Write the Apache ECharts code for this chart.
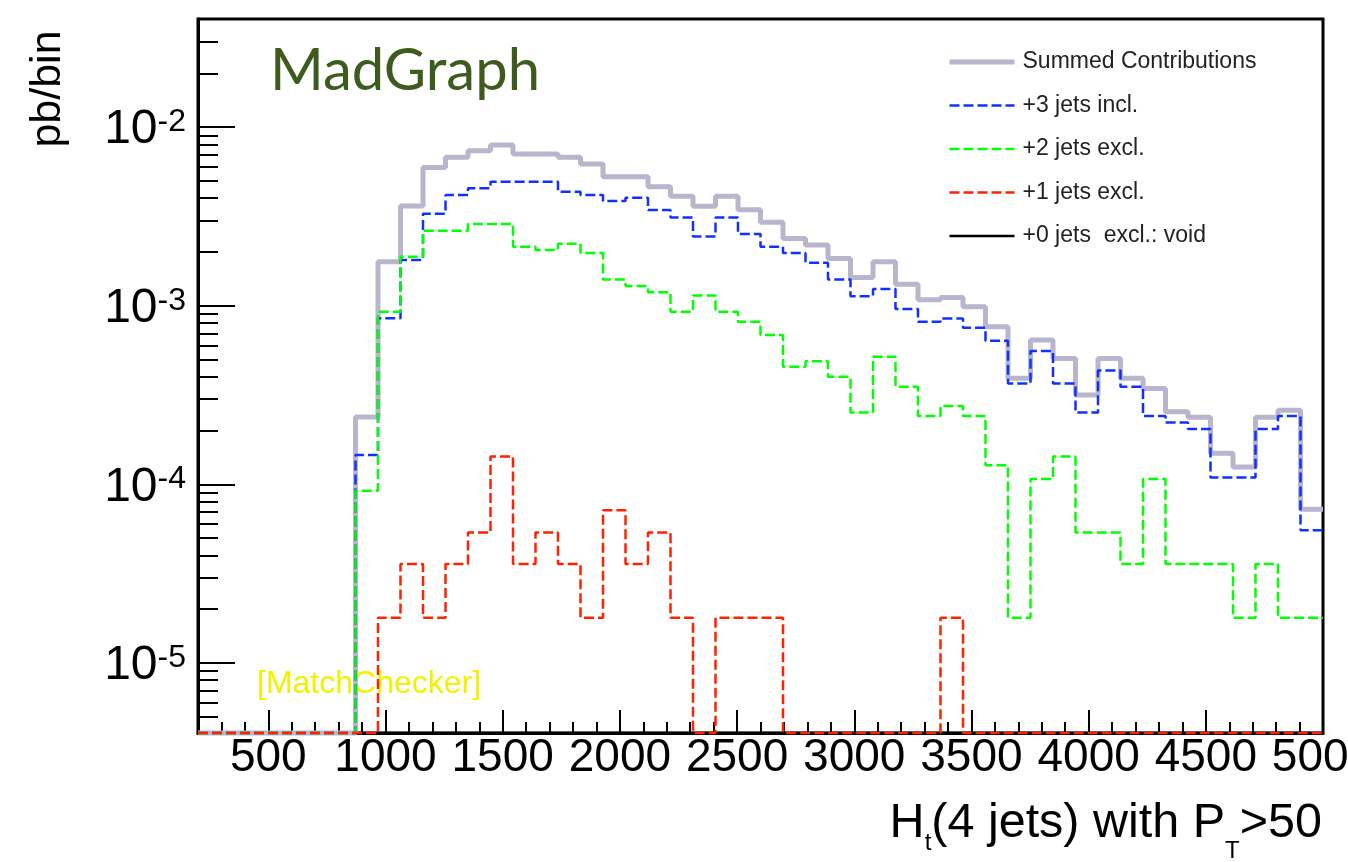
<!DOCTYPE html>
<html><head><meta charset="utf-8">
<script src="https://cdn.jsdelivr.net/npm/echarts@6/dist/echarts.min.js"></script>
<style>html,body{margin:0;padding:0;background:#fff}#c{width:1348px;height:862px}</style>
</head><body><div id="c"></div>
<script>
// bin edges (GeV), 50 bins of 96 from 200 to 5000
const binEdges = [200,296,392,488,584,680,776,872,968,1064,1160,1256,1352,1448,1544,1640,1736,1832,1928,2024,2120,2216,2312,2408,2504,2600,2696,2792,2888,2984,3080,3176,3272,3368,3464,3560,3656,3752,3848,3944,4040,4136,4232,4328,4424,4520,4616,4712,4808,4904,5000];

const summed = [0,0,0,0,0,0,0,2.38e-4,1.76e-3,3.62e-3,5.95e-3,6.77e-3,7.38e-3,7.95e-3,7.08e-3,7.08e-3,6.77e-3,6.22e-3,5.28e-3,5.28e-3,4.64e-3,4.10e-3,3.60e-3,4.10e-3,3.45e-3,2.93e-3,2.38e-3,2.19e-3,1.84e-3,1.44e-3,1.76e-3,1.32e-3,1.08e-3,1.11e-3,9.87e-4,7.62e-4,3.92e-4,6.43e-4,5.07e-4,3.16e-4,5.07e-4,3.92e-4,3.44e-4,2.55e-4,2.37e-4,1.49e-4,1.25e-4,2.37e-4,2.60e-4,7.26e-5];

const jets3incl = [0,0,0,0,0,0,0,1.46e-4,8.5e-4,1.80e-3,3.27e-3,4.17e-3,4.54e-3,4.95e-3,4.95e-3,4.95e-3,4.35e-3,4.17e-3,3.86e-3,4.02e-3,3.43e-3,3.12e-3,2.44e-3,3.12e-3,2.52e-3,2.14e-3,1.97e-3,1.74e-3,1.40e-3,1.13e-3,1.24e-3,9.58e-4,8.13e-4,8.49e-4,7.53e-4,6.37e-4,3.67e-4,5.57e-4,3.67e-4,2.52e-4,4.33e-4,3.52e-4,2.41e-4,2.22e-4,2.04e-4,1.09e-4,1.09e-4,2.04e-4,2.41e-4,5.53e-5];

const jets2excl = [0,0,0,0,0,0,0,9.2e-5,9.25e-4,1.88e-3,2.63e-3,2.63e-3,2.87e-3,2.87e-3,2.14e-3,2.05e-3,2.22e-3,1.97e-3,1.40e-3,1.29e-3,1.19e-3,9.25e-4,1.14e-3,9.25e-4,8.13e-4,6.85e-4,4.55e-4,4.88e-4,4.0e-4,2.52e-4,5.18e-4,3.52e-4,2.41e-4,2.74e-4,2.41e-4,1.28e-4,1.79e-5,1.07e-4,1.43e-4,5.37e-5,5.37e-5,3.58e-5,1.07e-4,3.58e-5,3.58e-5,3.58e-5,1.79e-5,3.58e-5,1.79e-5,1.79e-5];

const jets1excl = [0,0,0,0,0,0,0,0,1.79e-5,3.58e-5,1.79e-5,3.58e-5,5.37e-5,1.43e-4,3.58e-5,5.37e-5,3.58e-5,1.79e-5,7.16e-5,3.58e-5,5.37e-5,1.79e-5,0,1.79e-5,1.79e-5,1.79e-5,0,0,0,0,0,0,0,1.79e-5,0,0,0,0,0,0,0,0,0,0,0,0,0,0,0,0];

const jets0excl = [0,0,0,0,0,0,0,0,0,0,0,0,0,0,0,0,0,0,0,0,0,0,0,0,0,0,0,0,0,0,0,0,0,0,0,0,0,0,0,0,0,0,0,0,0,0,0,0,0,0];

const seriesNames = ['Summed Contributions', '+3 jets incl.', '+2 jets excl.', '+1 jets excl.', '+0 jets  excl.: void'];
const xMajorTicks = [500,1000,1500,2000,2500,3000,3500,4000,4500,5000];
const xMinorTicks = [300,400,600,700,800,900,1100,1200,1300,1400,1600,1700,1800,1900,2100,2200,2300,2400,2600,2700,2800,2900,3100,3200,3300,3400,3600,3700,3800,3900,4100,4200,4300,4400,4600,4700,4800,4900];
const yMajorTicks = [1e-5,1e-4,1e-3,1e-2];
const yMinorTicks = [5e-6,6e-6,7e-6,8e-6,9e-6,2e-5,3e-5,4e-5,5e-5,6e-5,7e-5,8e-5,9e-5,2e-4,3e-4,4e-4,5e-4,6e-4,7e-4,8e-4,9e-4,2e-3,3e-3,4e-3,5e-3,6e-3,7e-3,8e-3,9e-3,2e-2,3e-2];
// x-axis title pieces: [text, kind] (0 main, 1/2 subscripts)
const xTitleParts = [['H',0],['t',1],['(4 jets) with P',0],['T',2],['>50',0]];

const Y_MIN = 4.05e-6, Y_MAX = 0.0403;
const F = 'Liberation Sans, Arial, Helvetica, sans-serif';

function steps(vals){
  const pts = vals.map((v,i)=>[binEdges[i], v>0 ? v : Y_MIN]);
  const last = vals[vals.length-1];
  pts.push([binEdges[vals.length], last>0 ? last : Y_MIN]);
  return pts;
}

// build x title as consecutive text pieces (main text + subscripts)
function xTitleGraphics(){
  const ctx = document.createElement('canvas').getContext('2d');
  const sizes = [48.5, 24, 24];
  const baseY = [840, 852, 860];
  const font = fs => fs + 'px "Liberation Sans", Arial, sans-serif';
  const widths = xTitleParts.map(([t,k]) => { ctx.font = font(sizes[k]); return ctx.measureText(t).width; });
  let x = 1322 - widths.reduce((a,b)=>a+b,0);
  return xTitleParts.map(([t,k],i) => {
    const fs = sizes[k];
    const g = {type:'text', x:x, y:baseY[k] - 0.3465*fs, silent:true,
      style:{text:t, font:font(fs), fill:'#000', align:'left', verticalAlign:'middle', lineHeight:fs}};
    x += widths[i];
    return g;
  });
}

const chart = echarts.init(document.getElementById('c'), null, {renderer:'canvas'});
const dash = [10,4];
const mk = (name, vals, color, width, type, z) => ({
  name, type:'line', step:'end', data: steps(vals), symbol:'none', clip:false,
  lineStyle:{color, width, type}, itemStyle:{color}, z, silent:true
});

chart.setOption({
  animation:false,
  backgroundColor:'#fff',
  grid:{left:198, right:25, top:19, bottom:129, outerBoundsMode:'none', containLabel:false,
        show:true, borderColor:'#000', borderWidth:3, backgroundColor:'transparent'},
  legend:{
    orient:'vertical', left:947, top:50, padding:0, itemWidth:65, itemHeight:14, itemGap:19.5,
    selectedMode:false, data:seriesNames, itemStyle:{opacity:0, borderWidth:0},
    lineStyle:{width:'inherit'},
    textStyle:{fontSize:23, fontFamily:F, color:'#222', lineHeight:24, padding:[0,0,0,3]}
  },
  xAxis:[
    {type:'value', min:200, max:5000, position:'bottom',
     axisLine:{show:true, lineStyle:{color:'#000', width:3}},
     axisTick:{show:true, inside:true, length:23, customValues:xMajorTicks, lineStyle:{color:'#000', width:2}},
     axisLabel:{show:true, customValues:xMajorTicks, formatter:v=>String(v), hideOverlap:false,
       fontSize:46, lineHeight:46, fontFamily:F, color:'#000', margin:2},
     splitLine:{show:false}},
    {type:'value', min:200, max:5000, position:'bottom',
     axisLine:{show:false},
     axisTick:{show:true, inside:true, length:11, customValues:xMinorTicks, lineStyle:{color:'#000', width:2}},
     axisLabel:{show:false}, splitLine:{show:false}}
  ],
  yAxis:[
    {type:'log', logBase:10, min:Y_MIN, max:Y_MAX, position:'left',
     axisLine:{show:true, lineStyle:{color:'#000', width:3}},
     axisTick:{show:true, inside:true, length:37, customValues:yMajorTicks, lineStyle:{color:'#000', width:2}},
     axisLabel:{show:true, customValues:yMajorTicks, margin:12, padding:[6,0,0,0],
       formatter:v=>'{b|10}{s|' + Math.round(Math.log10(v)) + '}',
       rich:{b:{fontSize:48, lineHeight:48, fontFamily:F, color:'#000'},
             s:{fontSize:32, lineHeight:22, verticalAlign:'top', fontFamily:F, color:'#000'}}},
     splitLine:{show:false}},
    {type:'log', logBase:10, min:Y_MIN, max:Y_MAX, position:'left',
     axisLine:{show:false},
     axisTick:{show:true, inside:true, length:20, customValues:yMinorTicks, lineStyle:{color:'#000', width:2}},
     axisLabel:{show:false}, splitLine:{show:false}}
  ],
  series:[
    mk(seriesNames[0], summed, '#b8b5cc', 5, 'solid', 2),
    mk(seriesNames[1], jets3incl, '#1030ff', 2.5, dash, 3),
    mk(seriesNames[2], jets2excl, '#00ff00', 2.5, dash, 3),
    mk(seriesNames[3], jets1excl, '#ff2200', 2.5, dash, 4),
    mk(seriesNames[4], jets0excl, '#000000', 2.5, 'solid', 1)
  ],
  graphic:[
    {type:'text', left:270, top:42, silent:true,
     style:{text:'MadGraph', font:'58px Lato, "Open Sans", sans-serif', fill:'#3e5b1d'}},
    {type:'text', left:257, top:668, silent:true,
     style:{text:'[MatchChecker]', font:'32px "Liberation Sans", Arial, sans-serif', fill:'#f2f200'}},
    {type:'text', x:48, y:89, rotation:Math.PI/2, silent:true,
     style:{text:'pb/bin', font:'43px "Liberation Sans", Arial, sans-serif', fill:'#000', align:'center', verticalAlign:'middle'}}
  ].concat(xTitleGraphics())
});
</script></body></html>
